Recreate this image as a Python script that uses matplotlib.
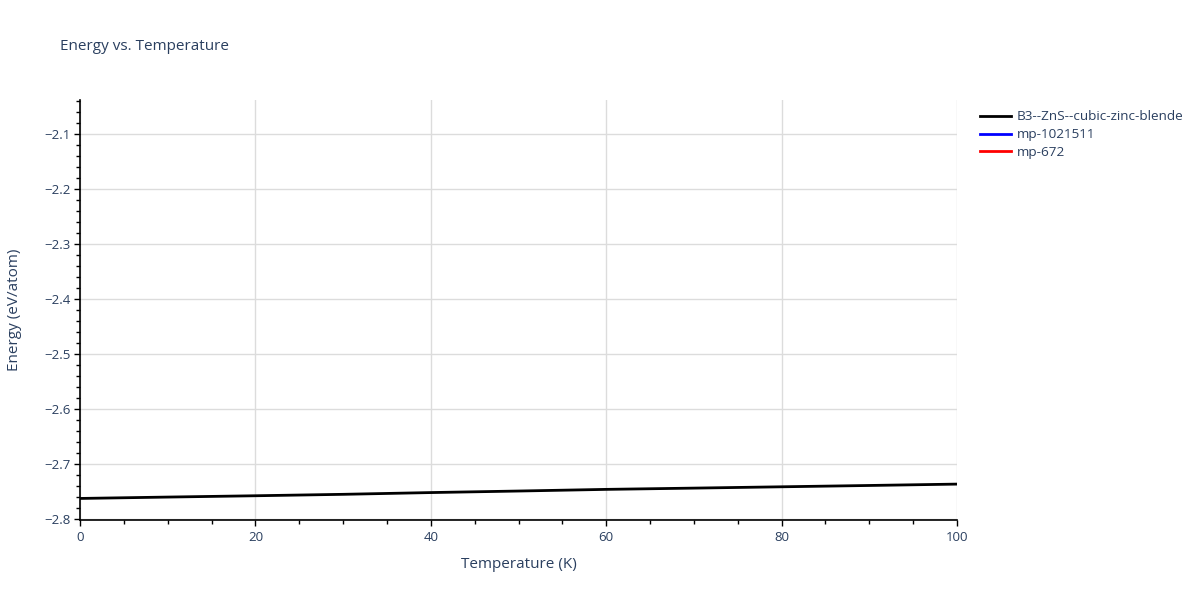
import numpy as np
import matplotlib
matplotlib.use('Agg')
import matplotlib.pyplot as plt
from matplotlib.ticker import MultipleLocator

# values
temperature = [0, 10, 20, 30, 40, 50, 60, 70, 80, 90, 100]
energy_b3 = [-2.7625, -2.7600, -2.7576, -2.7550, -2.7518, -2.7490,
             -2.7460, -2.7437, -2.7413, -2.7389, -2.7364]
# the other two series draw nothing visible in this range
temp_mp1021511 = []
energy_mp1021511 = []
temp_mp672 = []
energy_mp672 = []

series_names = ['B3--ZnS--cubic-zinc-blende', 'mp-1021511', 'mp-672']
series_colors = ['black', 'blue', 'red']

plt.rcParams['font.family'] = ['Open Sans', 'DejaVu Sans']
text_color = '#2a3f5f'

fig = plt.figure(figsize=(12, 6), dpi=100)
ax = fig.add_axes([80 / 1200, 1 - 519.5 / 600, 877 / 1200, 419.5 / 600])

ax.plot(temperature, energy_b3, color=series_colors[0], lw=2, label=series_names[0])
ax.plot(temp_mp1021511, energy_mp1021511, color=series_colors[1], lw=2, label=series_names[1])
ax.plot(temp_mp672, energy_mp672, color=series_colors[2], lw=2, label=series_names[2])

ax.set_xlim(0, 100)
ax.set_ylim(-2.8008, -2.0376)
ax.xaxis.set_major_locator(MultipleLocator(20))
ax.xaxis.set_minor_locator(MultipleLocator(5))
ax.yaxis.set_major_locator(MultipleLocator(0.1))
ax.yaxis.set_minor_locator(MultipleLocator(0.02))

ax.grid(True, which='major', color='#dcdcdc', lw=1)
ax.set_axisbelow(True)
for side in ['top', 'right']:
    ax.spines[side].set_visible(False)
for side in ['left', 'bottom']:
    ax.spines[side].set_color('black')
    ax.spines[side].set_linewidth(1.2)

ax.tick_params(which='major', direction='out', length=4, width=1, colors='black',
               labelcolor=text_color, labelsize=9.5)
ax.tick_params(which='minor', direction='out', length=3, width=1, colors='black')
ax.tick_params(axis='x', pad=4)
ax.tick_params(axis='y', pad=3)

ax.set_xlabel('Temperature (K)', fontsize=11, color=text_color, labelpad=10)
ax.set_ylabel('Energy (eV/atom)', fontsize=11, color=text_color, labelpad=16)

fig.text(60 / 1200, 1 - 46 / 600, 'Energy vs. Temperature', fontsize=11,
         color=text_color, va='center', ha='left')

leg = fig.legend(loc='upper left', bbox_to_anchor=(975 / 1200, 1 - 105 / 600),
                 frameon=False, fontsize=9.7, handlelength=2.3, handletextpad=0.4,
                 labelspacing=0.36, borderaxespad=0)
for t in leg.get_texts():
    t.set_color(text_color)

fig.savefig('out.png', dpi=100)
